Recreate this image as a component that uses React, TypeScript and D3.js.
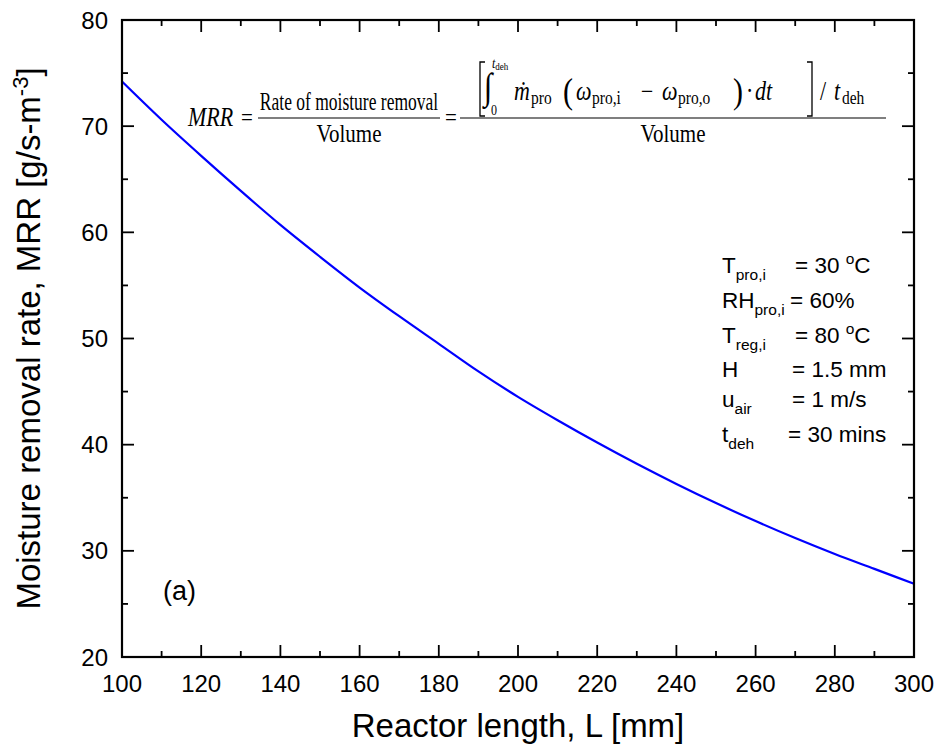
import React from "react";
import * as d3 from "d3";

// Reactor length L [mm] and moisture removal rate MRR [g/s-m^3]
const lengths = [100, 110, 120, 130, 140, 150, 160, 170, 180, 190, 200, 210, 220, 230, 240, 250, 260, 270, 280, 290, 300];
const mrr = [74.2, 70.6, 67.2, 63.9, 60.7, 57.7, 54.8, 52.1, 49.5, 46.9, 44.5, 42.3, 40.2, 38.2, 36.3, 34.5, 32.8, 31.2, 29.7, 28.3, 26.9];

const xTicks = [100, 120, 140, 160, 180, 200, 220, 240, 260, 280, 300];
const xMinorTicks = [110, 130, 150, 170, 190, 210, 230, 250, 270, 290];
const yTicks = [20, 30, 40, 50, 60, 70, 80];
const yMinorTicks = [25, 35, 45, 55, 65, 75];

const conditions = [
  { main: "T", sub: "pro,i", value: "= 30 ", sup: "o", tail: "C" },
  { main: "RH", sub: "pro,i", value: "= 60%", sup: "", tail: "" },
  { main: "T", sub: "reg,i", value: "= 80 ", sup: "o", tail: "C" },
  { main: "H", sub: "", value: "= 1.5 mm", sup: "", tail: "" },
  { main: "u", sub: "air", value: "= 1 m/s", sup: "", tail: "" },
  { main: "t", sub: "deh", value: "= 30 mins", sup: "", tail: "" },
];

const W = 941;
const H = 752;
const m = { left: 122, right: 27, top: 20, bottom: 95 };

const SANS = "Arial, 'Liberation Sans', sans-serif";
const SERIF = "'Times New Roman', 'Liberation Serif', serif";

// the equation block is drawn slightly stretched vertically about its fraction bars
const BAR_Y = 118;
const STRETCH = 1.2;
const fy = (v: number) => BAR_Y + (v - BAR_Y) / STRETCH;

export default function App() {
  const x = d3.scaleLinear().domain([100, 300]).range([m.left, W - m.right]);
  const y = d3.scaleLinear().domain([20, 80]).range([H - m.bottom, m.top]);
  const x0 = m.left, x1 = W - m.right, y0 = H - m.bottom, y1 = m.top;

  const line = d3
    .line<number>()
    .x((_, i) => x(lengths[i]))
    .y((d) => y(d))
    .curve(d3.curveMonotoneX);

  const major = 12;
  const minor = 6;

  const condY = [273, 308, 343, 377, 407, 442];
  const condEqX = [795, 790, 795, 792, 792, 788];

  const num = fy(100);
  const numSub = fy(104);

  return (
    <svg width={W} height={H} style={{ position: "absolute", left: 0, top: 0, background: "#fff" }}>
      {/* curve */}
      <path d={line(mrr) || ""} fill="none" stroke="#0000ff" strokeWidth={2.2} />

      {/* ticks, mirrored on all sides, pointing inward */}
      <g stroke="#000" strokeWidth={1.8}>
        {xTicks.map((t) => (
          <g key={"xt" + t}>
            <line x1={x(t)} x2={x(t)} y1={y0} y2={y0 - major} />
            <line x1={x(t)} x2={x(t)} y1={y1} y2={y1 + major} />
          </g>
        ))}
        {xMinorTicks.map((t) => (
          <g key={"xm" + t}>
            <line x1={x(t)} x2={x(t)} y1={y0} y2={y0 - minor} />
            <line x1={x(t)} x2={x(t)} y1={y1} y2={y1 + minor} />
          </g>
        ))}
        {yTicks.map((t) => (
          <g key={"yt" + t}>
            <line x1={x0} x2={x0 + major} y1={y(t)} y2={y(t)} />
            <line x1={x1} x2={x1 - major} y1={y(t)} y2={y(t)} />
          </g>
        ))}
        {yMinorTicks.map((t) => (
          <g key={"ym" + t}>
            <line x1={x0} x2={x0 + minor} y1={y(t)} y2={y(t)} />
            <line x1={x1} x2={x1 - minor} y1={y(t)} y2={y(t)} />
          </g>
        ))}
      </g>
      <rect x={x0} y={y1} width={x1 - x0} height={y0 - y1} fill="none" stroke="#000" strokeWidth={2.2} />

      {/* tick labels */}
      <g fontFamily={SANS} fontSize={24} fill="#000">
        {xTicks.map((t) => (
          <text key={"xl" + t} x={x(t)} y={y0 + 35} textAnchor="middle">{t}</text>
        ))}
        {yTicks.map((t) => (
          <text key={"yl" + t} x={x0 - 14} y={y(t) + 8.5} textAnchor="end">{t}</text>
        ))}
      </g>

      {/* axis titles */}
      <text x={(x0 + x1) / 2} y={737} textAnchor="middle" fontFamily={SANS} fontSize={33}>
        Reactor length, L [mm]
      </text>
      <text
        transform={`translate(40, ${(y0 + y1) / 2}) rotate(-90)`}
        textAnchor="middle"
        fontFamily={SANS}
        fontSize={33}
      >
        Moisture removal rate, MRR [g/s-m<tspan dy={-12} fontSize={22}>-3</tspan><tspan dy={12}>]</tspan>
      </text>

      {/* panel label */}
      <text x={163} y={600} fontFamily={SANS} fontSize={27}>(a)</text>

      {/* operating conditions */}
      <g fontFamily={SANS} fontSize={22.5} fill="#000">
        {conditions.map((c, i) => (
          <g key={"c" + i}>
            <text x={722} y={condY[i]}>
              {c.main}
              {c.sub && <tspan dy={7} fontSize={15.5}>{c.sub}</tspan>}
            </text>
            <text x={condEqX[i]} y={condY[i]}>
              {c.value}
              {c.sup && <tspan dy={-9} fontSize={15.5}>{c.sup}</tspan>}
              {c.tail && <tspan dy={9}>{c.tail}</tspan>}
            </text>
          </g>
        ))}
      </g>

      {/* definition of MRR */}
      <g
        fontFamily={SERIF}
        fontSize={21}
        fill="#000"
        transform={`translate(0, ${BAR_Y}) scale(1, ${STRETCH}) translate(0, ${-BAR_Y})`}
      >
        <text x={188} y={fy(126)} fontSize={22} fontStyle="italic">MRR</text>
        <text x={241} y={fy(126)}>=</text>
        <line x1={258} x2={440} y1={BAR_Y} y2={BAR_Y} stroke="#000" strokeWidth={1} />
        <text transform={`translate(349, ${fy(110)}) scale(1, 1.2)`} textAnchor="middle" fontSize={17.5}>
          Rate of moisture removal
        </text>
        <text x={349} y={fy(142)} textAnchor="middle">Volume</text>
        <text x={445} y={fy(126)}>=</text>
        <line x1={460} x2={886} y1={BAR_Y} y2={BAR_Y} stroke="#000" strokeWidth={1} />
        {/* left bracket */}
        <path
          d={`M 485 ${fy(62)} L 480 ${fy(62)} L 480 ${fy(116)} L 485 ${fy(116)}`}
          fill="none"
          stroke="#000"
          strokeWidth={1.3}
        />
        {/* integral with limits */}
        <text x={484} y={fy(99)} fontSize={31}>∫</text>
        <text x={492} y={fy(68)} fontSize={12} fontStyle="italic">t<tspan fontSize={9} fontStyle="normal" dy={2}>deh</tspan></text>
        <text x={491} y={fy(115)} fontSize={12}>0</text>
        {/* integrand */}
        <text x={514} y={num} fontSize={22} fontStyle="italic">ṁ</text>
        <text x={531} y={numSub} fontSize={15.5}>pro</text>
        <text x={563} y={fy(103)} fontSize={30}>(</text>
        <text x={576} y={num} fontSize={22} fontStyle="italic">ω</text>
        <text x={592} y={numSub} fontSize={15.5}>pro,i</text>
        <text x={641} y={num} fontSize={22}>−</text>
        <text x={662} y={num} fontSize={22} fontStyle="italic">ω</text>
        <text x={678} y={numSub} fontSize={15.5}>pro,o</text>
        <text x={733} y={fy(103)} fontSize={30}>)</text>
        <text x={746} y={num} fontSize={22}>·</text>
        <text x={755} y={num} fontSize={22} fontStyle="italic">dt</text>
        {/* right bracket */}
        <path
          d={`M 807 ${fy(62)} L 812 ${fy(62)} L 812 ${fy(116)} L 807 ${fy(116)}`}
          fill="none"
          stroke="#000"
          strokeWidth={1.3}
        />
        <text x={820} y={num} fontSize={22}>/</text>
        <text x={834} y={num} fontSize={22} fontStyle="italic">t</text>
        <text x={842} y={numSub} fontSize={15.5}>deh</text>
        <text x={673} y={fy(142)} textAnchor="middle">Volume</text>
      </g>
    </svg>
  );
}
